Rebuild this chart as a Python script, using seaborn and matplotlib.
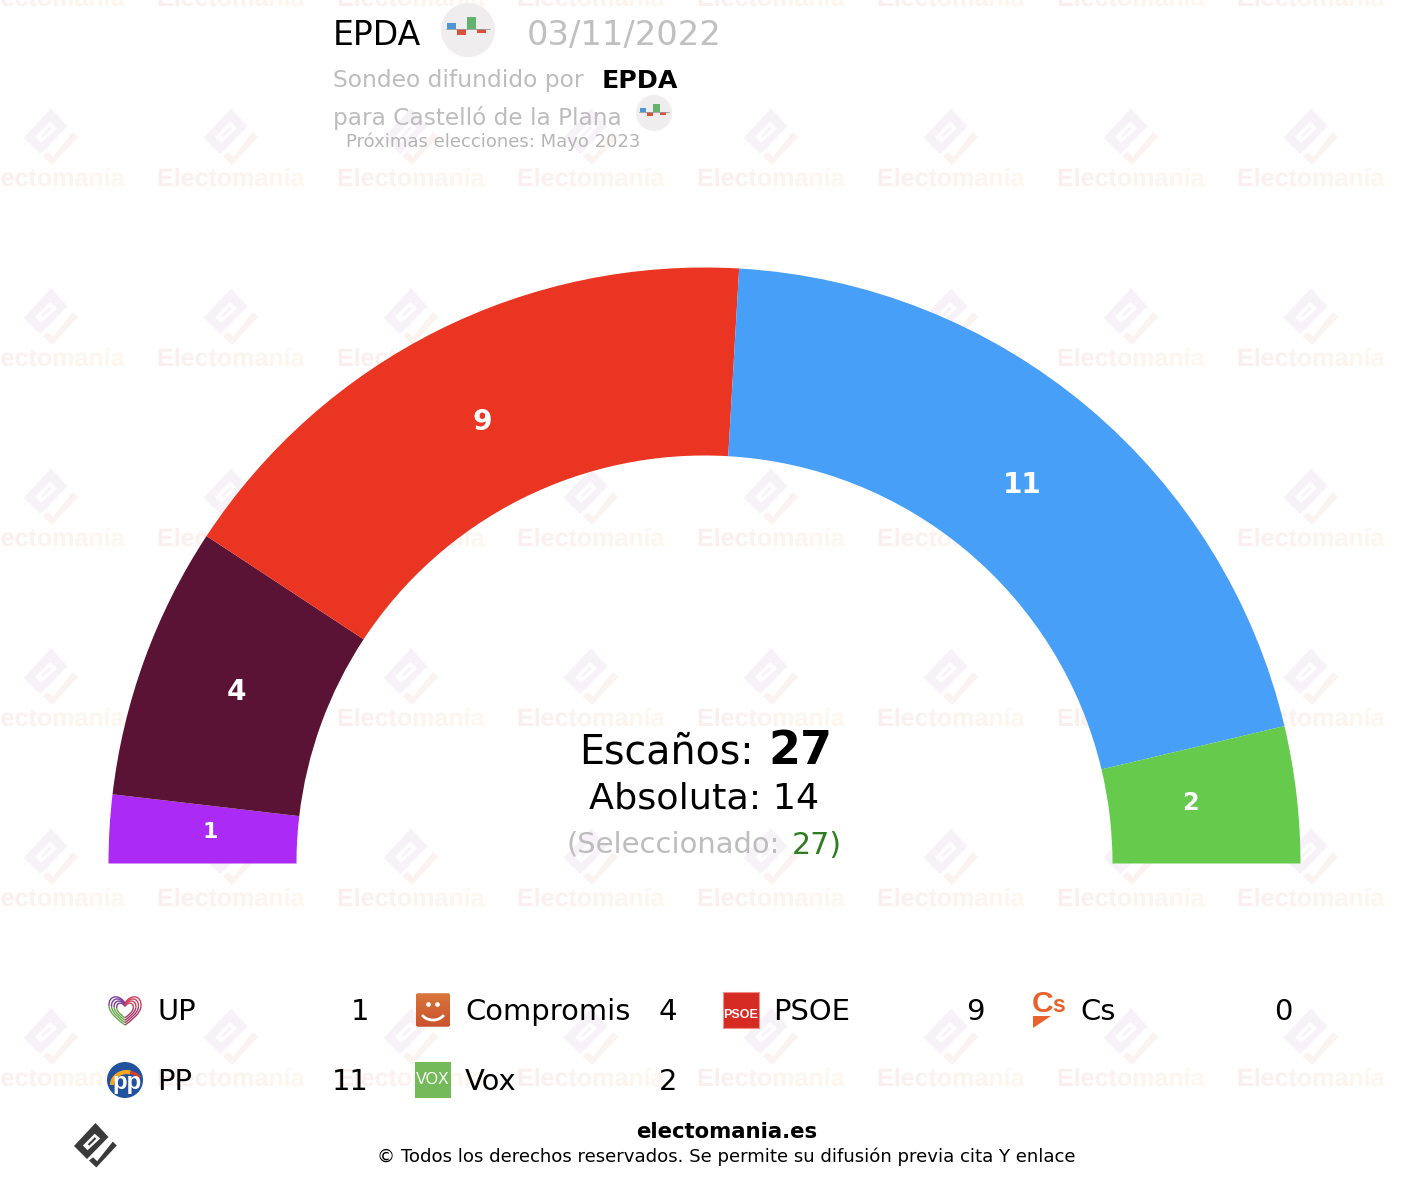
import numpy as np
import matplotlib
matplotlib.use("Agg")
import matplotlib.pyplot as plt
import seaborn as sns
from matplotlib.font_manager import FontProperties
from matplotlib.patches import Circle, Rectangle, Polygon, PathPatch, FancyBboxPatch, Arc
from matplotlib.path import Path
from matplotlib.textpath import TextPath
from matplotlib.transforms import Affine2D

# datos del sondeo
partidos = ["UP", "Compromis", "PSOE", "Cs", "PP", "Vox"]
escanos = [1, 4, 9, 0, 11, 2]
colores = ["#ab2af5", "#5a1335", "#ea3523", "#e8622c", "#489ff8", "#66cb4c"]
encuestadora = "EPDA"
fecha = "03/11/2022"
lugar = "para Castelló de la Plana"
proximas = "Próximas elecciones: Mayo 2023"
absoluta = 14
seleccionado = 27
barras_logo = [6, -6, 12, -4]
barras_color = ["#4f94d4", "#d9503c", "#62b36d", "#d9503c"]

sns.set_theme(style="white")
plt.rcParams["font.family"] = ["DejaVu Sans"]

W, H = 1402, 1180
fig = plt.figure(figsize=(W / 100, H / 100), dpi=100, facecolor="white")
ax = fig.add_axes([0, 0, 1, 1])


def pt(px):
    return px * 0.72


def texto(x, y, s, px, color="black", ha="left", weight="normal"):
    ax.text(x, y - 2, s, fontsize=pt(px), color=color, ha=ha, va="center_baseline", weight=weight, zorder=6)


# semicirculo: la mitad oculta completa la tarta, con el eje y invertido
paleta = sns.color_palette(colores)
total = sum(escanos)
visibles = [i for i, e in enumerate(escanos) if e > 0]
valores = [escanos[i] for i in visibles] + [total]
cols = [paleta[i] for i in visibles] + [(0, 0, 0, 0)]
cx, cy = 704.5, 863.5
wedges, _ = ax.pie(valores, colors=cols, startangle=180, counterclock=True, radius=596,
                   center=(cx, cy), wedgeprops={"width": 188, "linewidth": 0, "zorder": 3})
# ajuste fino de cada etiqueta
radio_etiqueta = {1: 495, 4: 498, 9: 495, 11: 495, 2: 489}
ajuste_y = {1: -3, 4: -1, 9: 1, 11: 1, 2: -4}
for w, i in zip(wedges, visibles):
    ang = np.deg2rad((w.theta1 + w.theta2) / 2)
    e = escanos[i]
    tam = 22 if e == 1 else (24 if e == 2 else 28)
    r = radio_etiqueta[e]
    ax.text(cx + r * np.cos(ang), cy + r * np.sin(ang) + ajuste_y[e], str(e), fontsize=pt(tam), color="white",
            weight="bold", ha="center", va="center", zorder=4)

ax.set_xlim(0, W)
ax.set_ylim(H, 0)
ax.set_aspect("equal")
ax.axis("off")


# marca de agua
def logo(x, y, s, c1, c2, fondo="white", z=1):
    dia = [(0, -22.5), (13, -8.5), (-8.5, 13.5), (-21.5, 0.5)]
    cola = [(-6.5, 15), (-2.4, 11.8), (1.6, 15.7), (17.3, -3.9), (21.3, 0), (0.8, 22)]
    hueco = [(-12.6, 0), (-0.8, -11.8), (4.7, -7), (-7.9, 4.7)]
    esc = lambda pts: [(x + s * a, y + s * b) for a, b in pts]
    ax.add_patch(Polygon(esc(dia), fc=c1, lw=0, zorder=z))
    ax.add_patch(Polygon(esc(cola), fc=c2, lw=0, zorder=z))
    ax.add_patch(Polygon(esc(hueco), fc=fondo, lw=0, zorder=z))
    ax.plot(*zip(*esc([(-7, -0.5), (0, -7.5)])), color=c1, lw=1.5 * s, zorder=z, solid_capstyle="butt")


columnas = [51 + 180 * k for k in range(8)]
filas = [137 + 180 * j for j in range(6)]
for x in columnas:
    for y in filas:
        logo(x, y, 1.27, "#f7f2f8", "#fbf3ef")

fp = FontProperties(family="Liberation Sans", weight="bold")
tp = TextPath((0, 0), "Electomanía", size=1, prop=fp)
ancho = tp.get_extents().width
esc_t = 146 / ancho
trozos = []
for x in columnas:
    for base in [6 + 180 * j for j in range(7)]:
        trozos.append(tp.transformed(Affine2D().scale(esc_t, -esc_t).translate(x - 74, base)))
compuesto = Path.make_compound_path(*trozos)
rosa, crema = np.array([251, 238, 239]) / 255, np.array([255, 248, 237]) / 255
frac = (((np.arange(W) + 22) % 180) / 146).clip(0, 1)
grad = (rosa[None, :] * (1 - frac[:, None]) + crema[None, :] * frac[:, None])[None, :, :]
im = ax.imshow(grad, extent=(0, W, H, 0), aspect="auto", zorder=1)
im.set_clip_path(compuesto, transform=ax.transData)


# icono del sondeo
def icono_sondeo(x, y, r):
    ax.add_patch(Circle((x, y), r, fc="#efedee", lw=0, zorder=4))
    u = r / 27
    x0 = x - 21 * u
    for k, (b, c) in enumerate(zip(barras_logo, barras_color)):
        ax.add_patch(Rectangle((x0 + k * 10 * u, y - 1 * u), 9.3 * u, -b * u, fc=c, lw=0, zorder=5))
    ax.plot([x - 22 * u, x + 22 * u], [y - u, y - u], color="#999999", lw=0.6, zorder=5)


texto(333, 34, encuestadora, 33)
icono_sondeo(468, 30, 27)
texto(527, 34, fecha, 33.8, color="#c0c0c0")
texto(333, 80, "Sondeo difundido por", 23.4, color="#bdbdbd")
texto(602, 80, encuestadora, 25.3, weight="bold")
texto(333, 117, lugar, 23.3, color="#bdbdbd")
icono_sondeo(654, 113, 18)
texto(346, 142, proximas, 18, color="#b5b5b5")

# texto central
texto(754, 750, "Escaños:", 39.6, ha="right")
texto(768, 749, str(total), 46, weight="bold")
texto(704.5, 797, f"Absoluta: {absoluta}", 36.5, ha="center")
texto(780, 843, "(Seleccionado:", 29, color="#bdbdbd", ha="right")
texto(792, 844, f"{seleccionado})", 30, color="#2e7d1e")


# iconos de la leyenda
def icono_up(x, y):
    tramos = [
        ([(0, -0.45), (-0.3, -1.05), (-1.05, -1.05), (-1, -0.25)], "#7b3f98"),
        ([(-1, -0.25), (-0.95, 0.3), (-0.3, 0.75), (0, 1)], "#6aa84f"),
        ([(0, -0.45), (0.3, -1.05), (1.05, -1.05), (1, -0.25)], "#d0405a"),
        ([(1, -0.25), (0.95, 0.3), (0.3, 0.75), (0, 1)], "#a83a6a"),
    ]
    for s in [1, 0.84, 0.68, 0.52]:
        for pts, c in tramos:
            v = [(x + 16 * s * a, y + 15 * s * b) for a, b in pts]
            ax.add_patch(PathPatch(Path(v, [Path.MOVETO, Path.CURVE4, Path.CURVE4, Path.CURVE4]),
                                   fc="none", ec=c, lw=1, zorder=5))


def icono_compromis(x, y):
    caja = FancyBboxPatch((x - 17, y - 16.5), 34, 33, boxstyle="round,pad=0,rounding_size=2", fc="#d0653a", lw=0, zorder=4)
    ax.add_patch(caja)
    g = np.linspace(0, 1, 40)[:, None, None]
    img = np.array([0.85, 0.47, 0.24])[None, None, :] * (1 - g) + np.array([0.79, 0.32, 0.18])[None, None, :] * g
    m = ax.imshow(img, extent=(x - 18, x + 18, y + 17, y - 18), aspect="auto", zorder=5)
    m.set_clip_path(caja)
    ax.add_patch(Arc((x, y + 1), 24, 18, theta1=20, theta2=160, ec="white", lw=2, zorder=6))
    ax.plot([x - 5, x + 4], [y - 6, y - 6], ls="none", marker="o", ms=2.4, color="white", zorder=6)


def icono_psoe(x, y):
    ax.add_patch(Rectangle((x - 18, y - 18), 36, 36, fc="#d52b23", ec="#ee8f8a", lw=0.8, zorder=5))
    ax.text(x, y + 5, "PSOE", fontsize=pt(12.5), family="Liberation Sans", weight="bold",
            color="white", ha="center", va="center", zorder=6)


def icono_cs(x, y):
    ax.text(x - 16, y - 6, "C", fontsize=pt(30), family="Liberation Sans", weight="bold", color="#e8622c",
            ha="left", va="center", zorder=6)
    ax.text(x + 4, y - 5, "s", fontsize=pt(23), family="Liberation Sans", weight="bold", color="#e8622c",
            ha="left", va="center", zorder=6)
    ax.add_patch(Polygon([(x - 15, y + 6), (x + 3, y + 6), (x - 15, y + 18)], fc="#e8622c", lw=0, zorder=6))


def icono_pp(x, y):
    ax.add_patch(Circle((x, y), 18, fc="#20529f", lw=0, zorder=5))
    ax.add_patch(Arc((x + 2, y + 5), 30, 26, theta1=180, theta2=285, ec="#f5a623", lw=3, zorder=6))
    ax.add_patch(Arc((x + 2, y + 5), 30, 26, theta1=285, theta2=330, ec="#d8402a", lw=2.4, zorder=6))
    ax.text(x + 2, y + 3, "pp", fontsize=pt(24), family="Liberation Sans", weight="bold", color="white",
            ha="center", va="center", zorder=7)


def icono_vox(x, y):
    ax.add_patch(Rectangle((x - 18, y - 18), 36, 36, fc="#74ba5a", lw=0, zorder=5))
    ax.text(x, y, "VOX", fontsize=pt(16), family="Liberation Sans", color="white",
            ha="center", va="center", zorder=6)


iconos = [icono_up, icono_compromis, icono_psoe, icono_cs, icono_pp, icono_vox]
for i, (p, e) in enumerate(zip(partidos, escanos)):
    col, fil = i % 4, i // 4
    x0 = 107 + 308 * col - (1 if col == 3 else 0)
    y0 = 1010 + 70 * fil
    iconos[i](x0 + 18, y0)
    texto(x0 + 50, y0 + 1, p, 29)
    texto(x0 + 262, y0 + 1, str(e), 29, ha="right")

# pie
logo(95.5, 1145.5, 1, "#3a3a3a", "#3a3a3a")
texto(726.5, 1132, "electomania.es", 21.3, ha="center", weight="bold")
texto(726.5, 1156.5, "© Todos los derechos reservados. Se permite su difusión previa cita Y enlace", 18.1, ha="center")

ax.set_xlim(0, W)
ax.set_ylim(H, 0)
fig.savefig("out.png", dpi=100, facecolor="white")
